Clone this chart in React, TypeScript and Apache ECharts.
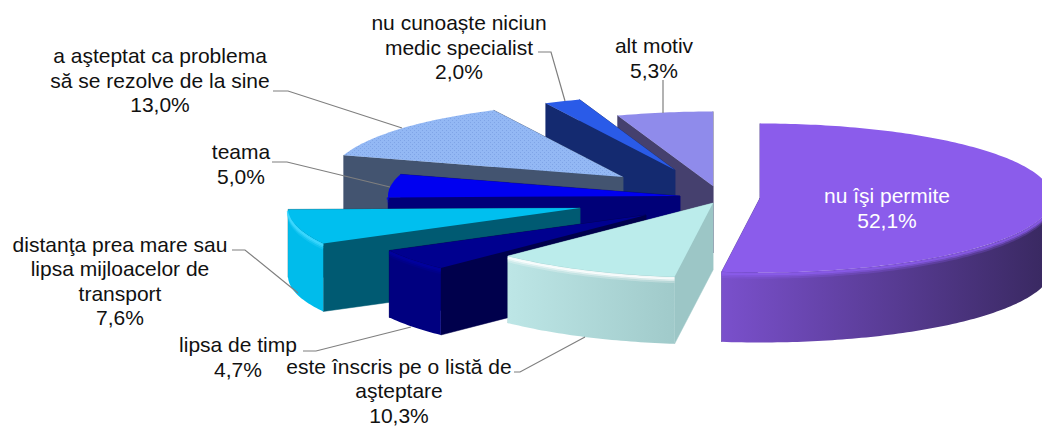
import React, { useEffect, useRef } from "react";
import * as echarts from "echarts";

// ---- data, clockwise from twelve o'clock ----
const categories = [
  "nu îşi permite",
  "este înscris pe o listă de\naşteptare",
  "lipsa de timp",
  "distanţa prea mare sau\nlipsa mijloacelor de\ntransport",
  "teama",
  "a aşteptat ca problema\nsă se rezolve de la sine",
  "nu cunoaște niciun\nmedic specialist",
  "alt motiv",
];
const values = [52.1, 10.3, 4.7, 7.6, 5.0, 13.0, 2.0, 5.3];

// ---- exploded slice apexes ----
const apexX = [760, 713, 646, 580, 680, 623, 675, 713];
const apexY = [198, 203, 215, 208, 196, 177, 170, 186];
const depths = [70, 67, 67, 68, 67, 67, 67, 67];
const RX = 292;
const RY = 74.5;

// ---- styles ----
const topColors = ["#8B5CEB", "#BBECEB", "#00008F", "#00BFEF", "#0000F0", "#8FB4F2", "#2A5BE8", "#8F8BEB"];
const cutColors = ["#4A3590", "#9CC6C6", "#00004C", "#005A72", "#000078", "#435470", "#142A70", "#45406E"];
const rimLeft = ["#7A50CC", "#BDE6E6", "#000080", "#00BCEB", "#000078", "#435470", "#142A70", "#45406E"];
const rimRight = ["#38285F", "#A0CACA", "#000080", "#00BCEB", "#000078", "#435470", "#142A70", "#45406E"];
const bevelColors = ["#8B5CEB", "#FFFFFF", "#0000A0", "#40D8FF", "#0000F0", "#8FB4F2", "#2A5BE8", "#8F8BEB"];

// ---- label layout ----
const labelX = [887, 399, 238, 120, 241, 160, 459, 654];
const labelY = [208, 390.5, 357, 281, 164, 80, 47, 58];
const labelColors = ["#FFFFFF", "#111111", "#111111", "#111111", "#111111", "#111111", "#111111", "#111111"];
const leaders: (number[][] | null)[] = [
  null,
  [[514, 372], [520, 372], [585, 337]],
  [[303, 351], [316, 351], [411, 327]],
  [[232, 250], [245, 250], [298, 293]],
  [[272, 162], [287, 162], [390, 187]],
  [[273, 91], [288, 91], [402, 128]],
  [[538, 52], [551, 52], [565, 101]],
  [[663, 80], [663, 113]],
];

const total = values.reduce((a, b) => a + b, 0);
const toRad = (deg: number) => (deg * Math.PI) / 180;

function makeDotPattern() {
  const c = document.createElement("canvas");
  c.width = 4;
  c.height = 4;
  const g = c.getContext("2d")!;
  g.fillStyle = "#93B8F4";
  g.fillRect(0, 0, 4, 4);
  g.fillStyle = "#7FA4E6";
  g.fillRect(0, 0, 1, 1);
  g.fillRect(2, 2, 1, 1);
  return {
    type: "pattern",
    image: c.toDataURL(),
    imageWidth: 4,
    imageHeight: 4,
    repeat: "repeat",
  };
}

export default function App() {
  const ref = useRef<HTMLDivElement>(null);

  useEffect(() => {
    const chart = echarts.init(ref.current!, null, { renderer: "svg" });
    const dots = makeDotPattern();

    const startAngles: number[] = [];
    values.reduce((acc, v, i) => {
      startAngles[i] = (acc / total) * 360;
      return acc + v;
    }, 0);

    const renderItem = (_params: any, api: any) => {
      const i = api.value(1) as number;
      const a0 = startAngles[i];
      const a1 = a0 + ((api.value(0) as number) / total) * 360;
      const cx = apexX[i];
      const cy = apexY[i];
      const depth = depths[i];
      const pt = (deg: number, dy = 0) => [
        cx + RX * Math.sin(toRad(deg)),
        cy - RY * Math.cos(toRad(deg)) + dy,
      ];
      const arc = (from: number, to: number, dy = 0) => {
        const out: number[][] = [];
        const n = Math.max(2, Math.ceil(Math.abs(to - from)));
        for (let k = 0; k <= n; k++) out.push(pt(from + ((to - from) * k) / n, dy));
        return out;
      };
      const apex = [cx, cy];
      const apexLow = [cx, cy + depth];
      const children: any[] = [];

      const cut = (deg: number) => ({
        type: "polygon",
        shape: { points: [apex, pt(deg), pt(deg, depth), apexLow] },
        style: { fill: cutColors[i], stroke: cutColors[i], lineWidth: 0.5 },
      });
      children.push(cut(a1), cut(a0));

      const r0 = Math.max(a0, 90);
      const r1 = Math.min(a1, 270);
      if (r1 > r0) {
        children.push({
          type: "polygon",
          shape: { points: [...arc(r0, r1), ...arc(r1, r0, depth)] },
          style: {
            fill: new echarts.graphic.LinearGradient(0, 0, 1, 0, [
              { offset: 0, color: rimLeft[i] },
              { offset: 1, color: rimRight[i] },
            ]),
          },
        });
        [5, 3, 1.5].forEach((dy, k) => {
          children.push({
            type: "polyline",
            shape: { points: arc(r0, r1, dy) },
            style: {
              fill: "none",
              stroke: bevelColors[i],
              lineWidth: 2.5,
              opacity: 0.25 + 0.3 * k,
            },
          });
        });
      }

      children.push({
        type: "polygon",
        shape: { points: [apex, ...arc(a0, a1)] },
        style: { fill: i === 5 ? dots : topColors[i] },
      });
      return { type: "group", children };
    };

    // painted back to front: last slice first
    const drawOrder = values.map((_, i) => values.length - 1 - i);

    const labelGraphics: any[] = categories.map((name, i) => ({
      type: "text",
      x: labelX[i],
      y: labelY[i],
      silent: true,
      z: 10,
      style: {
        text: `${name}\n${values[i].toFixed(1).replace(".", ",")}%`,
        fontFamily: "Liberation Sans",
        fontSize: 21,
        lineHeight: 24.5,
        fill: labelColors[i],
        align: "center",
        verticalAlign: "middle",
      },
    }));
    const leaderGraphics: any[] = leaders
      .filter((l) => l)
      .map((l) => ({
        type: "polyline",
        silent: true,
        z: 9,
        shape: { points: l },
        style: { fill: "none", stroke: "#7F7F7F", lineWidth: 1.2 },
      }));

    chart.setOption({
      animation: false,
      backgroundColor: "#FFFFFF",
      series: [
        {
          type: "custom",
          coordinateSystem: "none",
          silent: true,
          clip: false,
          renderItem,
          data: drawOrder.map((i) => [values[i], i]),
        },
      ],
      graphic: { elements: [...leaderGraphics, ...labelGraphics] },
    });
    return () => chart.dispose();
  }, []);

  return (
    <div
      ref={ref}
      style={{ position: "absolute", left: 0, top: 0, width: 1042, height: 427 }}
    />
  );
}
